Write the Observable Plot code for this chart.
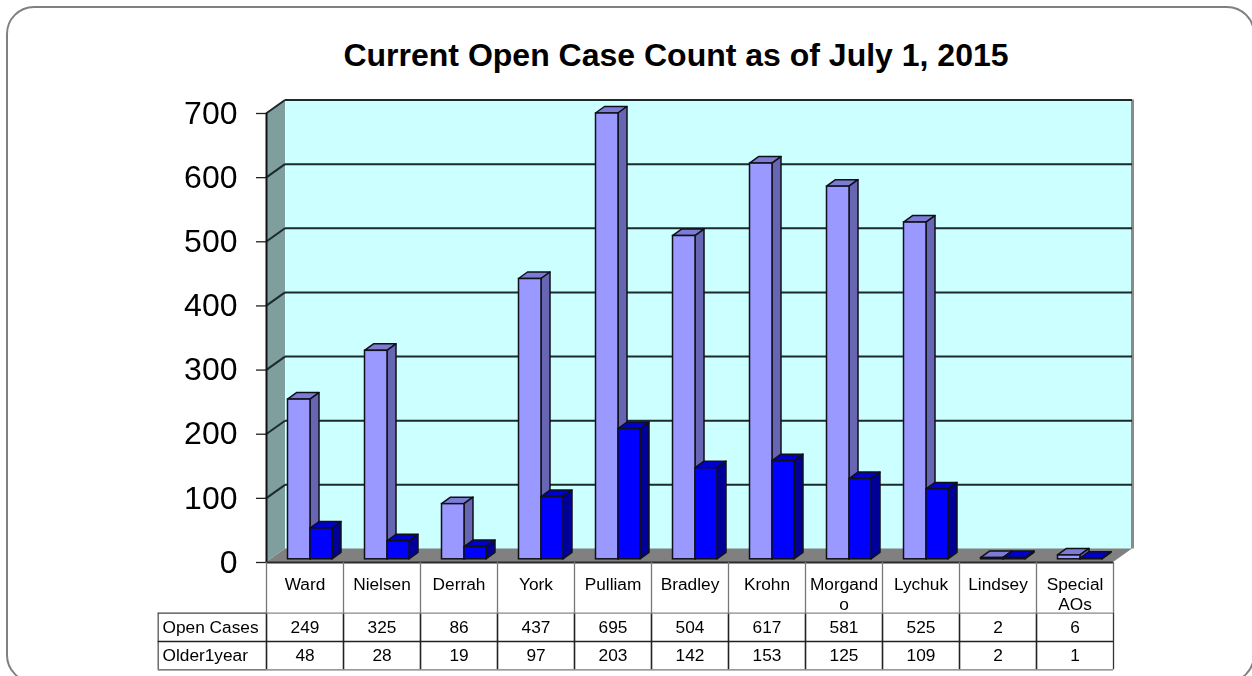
<!DOCTYPE html>
<html>
<head>
<meta charset="utf-8">
<script src="https://cdn.jsdelivr.net/npm/d3@7"></script>
<script src="https://cdn.jsdelivr.net/npm/@observablehq/plot@0.6"></script>
<style>
html,body{margin:0;padding:0;background:#fff;width:1252px;height:676px;overflow:hidden;position:relative}
svg{display:block;position:absolute;left:0;top:0;filter:blur(0.35px)}
#title{position:absolute;left:0;top:36px;width:1352px;text-align:center;font:bold 32px/38px "Liberation Sans",Arial,sans-serif;color:#000;z-index:2}
#frame{position:absolute;left:6px;top:6px;width:1249px;height:677px;box-sizing:border-box;border:2px solid #808080;border-radius:28px;z-index:3;pointer-events:none}
</style>
</head>
<body>
<div id="frame"></div>
<div id="title">Current Open Case Count as of July 1, 2015</div>
<script>
const categories = ["Ward","Nielsen","Derrah","York","Pulliam","Bradley","Krohn","Morgando","Lychuk","Lindsey","Special AOs"];
const categoryLabels = ["Ward","Nielsen","Derrah","York","Pulliam","Bradley","Krohn","Morgand\no","Lychuk","Lindsey","Special\nAOs"];
const openCases = [249,325,86,437,695,504,617,581,525,2,6];
const older1Year = [48,28,19,97,203,142,153,125,109,2,1];
const rowLabels = ["Open Cases","Older1year"];
const yTicks = [0,100,200,300,400,500,600,700];

const rows = categories.map((name,i)=>({name,label:categoryLabels[i],open:openCases[i],older:older1Year[i]}));

const NS = "http://www.w3.org/2000/svg";
const wallDx = 19, wallDy = -13.5;
const barDx = 9, barDy = -6.5;

function poly(parent, before, pts, fill, stroke, sw){
  const p = document.createElementNS(NS,"polygon");
  p.setAttribute("points", pts.map(d=>d.join(",")).join(" "));
  p.setAttribute("fill", fill);
  if (stroke) { p.setAttribute("stroke", stroke); p.setAttribute("stroke-width", sw); p.setAttribute("stroke-linejoin","round"); }
  parent.insertBefore(p, before);
}
// Front faces come from Plot's scales; the top and side faces extrude each rect
function box(y, insetLeft, insetRight, fill, topFill, sideFill){
  return Plot.barY(rows,{
    x:"name", y, insetLeft, insetRight, dy:-3.2,
    fill, stroke:"#101018", strokeWidth:1.5,
    render(index, scales, values, dims, ctx, next){
      const g = next(index, scales, values, dims, ctx);
      g.querySelectorAll("rect").forEach(r=>{
        const x=+r.getAttribute("x"), t=+r.getAttribute("y"), w=+r.getAttribute("width"), h=+r.getAttribute("height");
        poly(g, r, [[x,t],[x+barDx,t+barDy],[x+w+barDx,t+barDy],[x+w,t]], topFill, "#101018", 1.5);
        poly(g, r, [[x+w,t],[x+w+barDx,t+barDy],[x+w+barDx,t+h+barDy],[x+w,t+h]], sideFill, "#101018", 1.5);
      });
      return g;
    }
  });
}
function walls(){
  return Plot.frame({fill:"none", stroke:"none",
    render(index, scales, values, dims, ctx, next){
      const g = document.createElementNS(NS,"g");
      const l=dims.marginLeft, r=dims.width-dims.marginRight, t=dims.marginTop, b=dims.height-dims.marginBottom;
      poly(g, null, [[l,t],[l+wallDx,t+wallDy],[l+wallDx,b+wallDy],[l,b]], "#7F9F9F");
      poly(g, null, [[l,b],[l+wallDx,b+wallDy],[r+wallDx,b+wallDy],[r,b]], "#808080");
      return g;
    }
  });
}
function wallLines(){
  return Plot.ruleY(yTicks.filter(d=>d>0),{
    y:d=>d, dx:wallDx, dy:wallDy, stroke:"#1c2a2a", strokeWidth:2,
    render(index, scales, values, dims, ctx, next){
      const g = next(index, scales, values, dims, ctx);
      g.querySelectorAll("line").forEach(n=>{
        const c = n.cloneNode();
        const x=+n.getAttribute("x1"), y=+n.getAttribute("y1");
        c.setAttribute("x1",x-wallDx); c.setAttribute("y1",y-wallDy);
        c.setAttribute("x2",x); c.setAttribute("y2",y);
        g.appendChild(c);
      });
      return g;
    }
  });
}
const F = 449;             // frame height: table insets start from the frame's bottom edge
const step = 77;
const rowY = [50.7,79,107.3];

const chart = Plot.plot({
  width:1252, height:676,
  marginLeft:266, marginRight:139, marginTop:113, marginBottom:114,
  style:{fontFamily:"'Liberation Sans',Arial,sans-serif", background:"transparent", color:"#000", overflow:"visible"},
  x:{type:"band", domain:categories, padding:0, axis:null},
  y:{domain:[0,700], axis:null},
  marks:[
    Plot.frame({fill:"#CCFFFF", stroke:"none", dx:wallDx, dy:wallDy}),
    Plot.ruleX(categories.slice(-1),{x:d=>d,dx:step/2+wallDx,dy:wallDy,stroke:"#8a8a8a",strokeWidth:3}),
    walls(),
    wallLines(),
    box("open",21.5,33,"#9999FF","#7C7CD6","#6666B3"),
    box("older",44,11,"#0000FF","#0000CC","#000099"),
    // vertical front axis
    Plot.ruleX(categories.slice(0,1),{x:d=>d,dx:-step/2,stroke:"#111",strokeWidth:2}),
    Plot.axisY(yTicks,{tickSize:10,tickPadding:19,fontSize:32,label:null,stroke:"#222",strokeWidth:1.3,fill:"#000"}),
    // floor edge, table header cells
    Plot.ruleY([0],{stroke:"#2a2a2a",strokeWidth:2}),
    Plot.ruleX(categories,{x:d=>d,dx:-step/2,insetTop:F,insetBottom:-rowY[0],stroke:"#777",strokeWidth:1.3}),
    Plot.ruleX(categories.slice(-1),{x:d=>d,dx:step/2,insetTop:F,insetBottom:-rowY[0],stroke:"#777",strokeWidth:1.3}),
    // table body lines
    Plot.ruleX(categories,{x:d=>d,dx:-step/2,insetTop:F+rowY[0],insetBottom:-rowY[2],stroke:"#222",strokeWidth:1.6}),
    Plot.ruleX(categories.slice(-1),{x:d=>d,dx:step/2,insetTop:F+rowY[0],insetBottom:-rowY[2],stroke:"#333",strokeWidth:1.3}),
    Plot.ruleX(categories.slice(0,1),{x:d=>d,dx:-step/2-108.3,insetTop:F+rowY[0],insetBottom:-rowY[2],stroke:"#555",strokeWidth:1.3}),
    Plot.ruleY([0],{dy:rowY[0],stroke:"#888",strokeWidth:1.3}),
    Plot.ruleY([0],{dy:rowY[2],stroke:"#777",strokeWidth:1.3}),
    Plot.ruleY([0],{dy:rowY[1],insetLeft:-108.3,stroke:"#222",strokeWidth:1.3}),
    Plot.ruleY([0],{dy:rowY[0],insetLeft:-108.3,insetRight:847,stroke:"#444",strokeWidth:1.3}),
    Plot.ruleY([0],{dy:rowY[2],insetLeft:-108.3,insetRight:847,stroke:"#555",strokeWidth:1.3}),
    // table text
    Plot.text(rows,{x:"name",text:"label",frameAnchor:"bottom",lineAnchor:"top",dy:14,lineHeight:1.12,fontSize:17.3,fill:"#000"}),
    Plot.text(rows,{x:"name",text:d=>String(d.open),frameAnchor:"bottom",lineAnchor:"middle",dy:64.5,fontSize:17.3,fill:"#000"}),
    Plot.text(rows,{x:"name",text:d=>String(d.older),frameAnchor:"bottom",lineAnchor:"middle",dy:92.5,fontSize:17.3,fill:"#000"}),
    Plot.text([rowLabels[0]],{frameAnchor:"bottom-left",textAnchor:"start",lineAnchor:"middle",dx:-104,dy:64.5,fontSize:17.3,fill:"#000"}),
    Plot.text([rowLabels[1]],{frameAnchor:"bottom-left",textAnchor:"start",lineAnchor:"middle",dx:-104,dy:92.5,fontSize:17.3,fill:"#000"})
  ]
});
document.body.appendChild(chart);
</script>
</body>
</html>
